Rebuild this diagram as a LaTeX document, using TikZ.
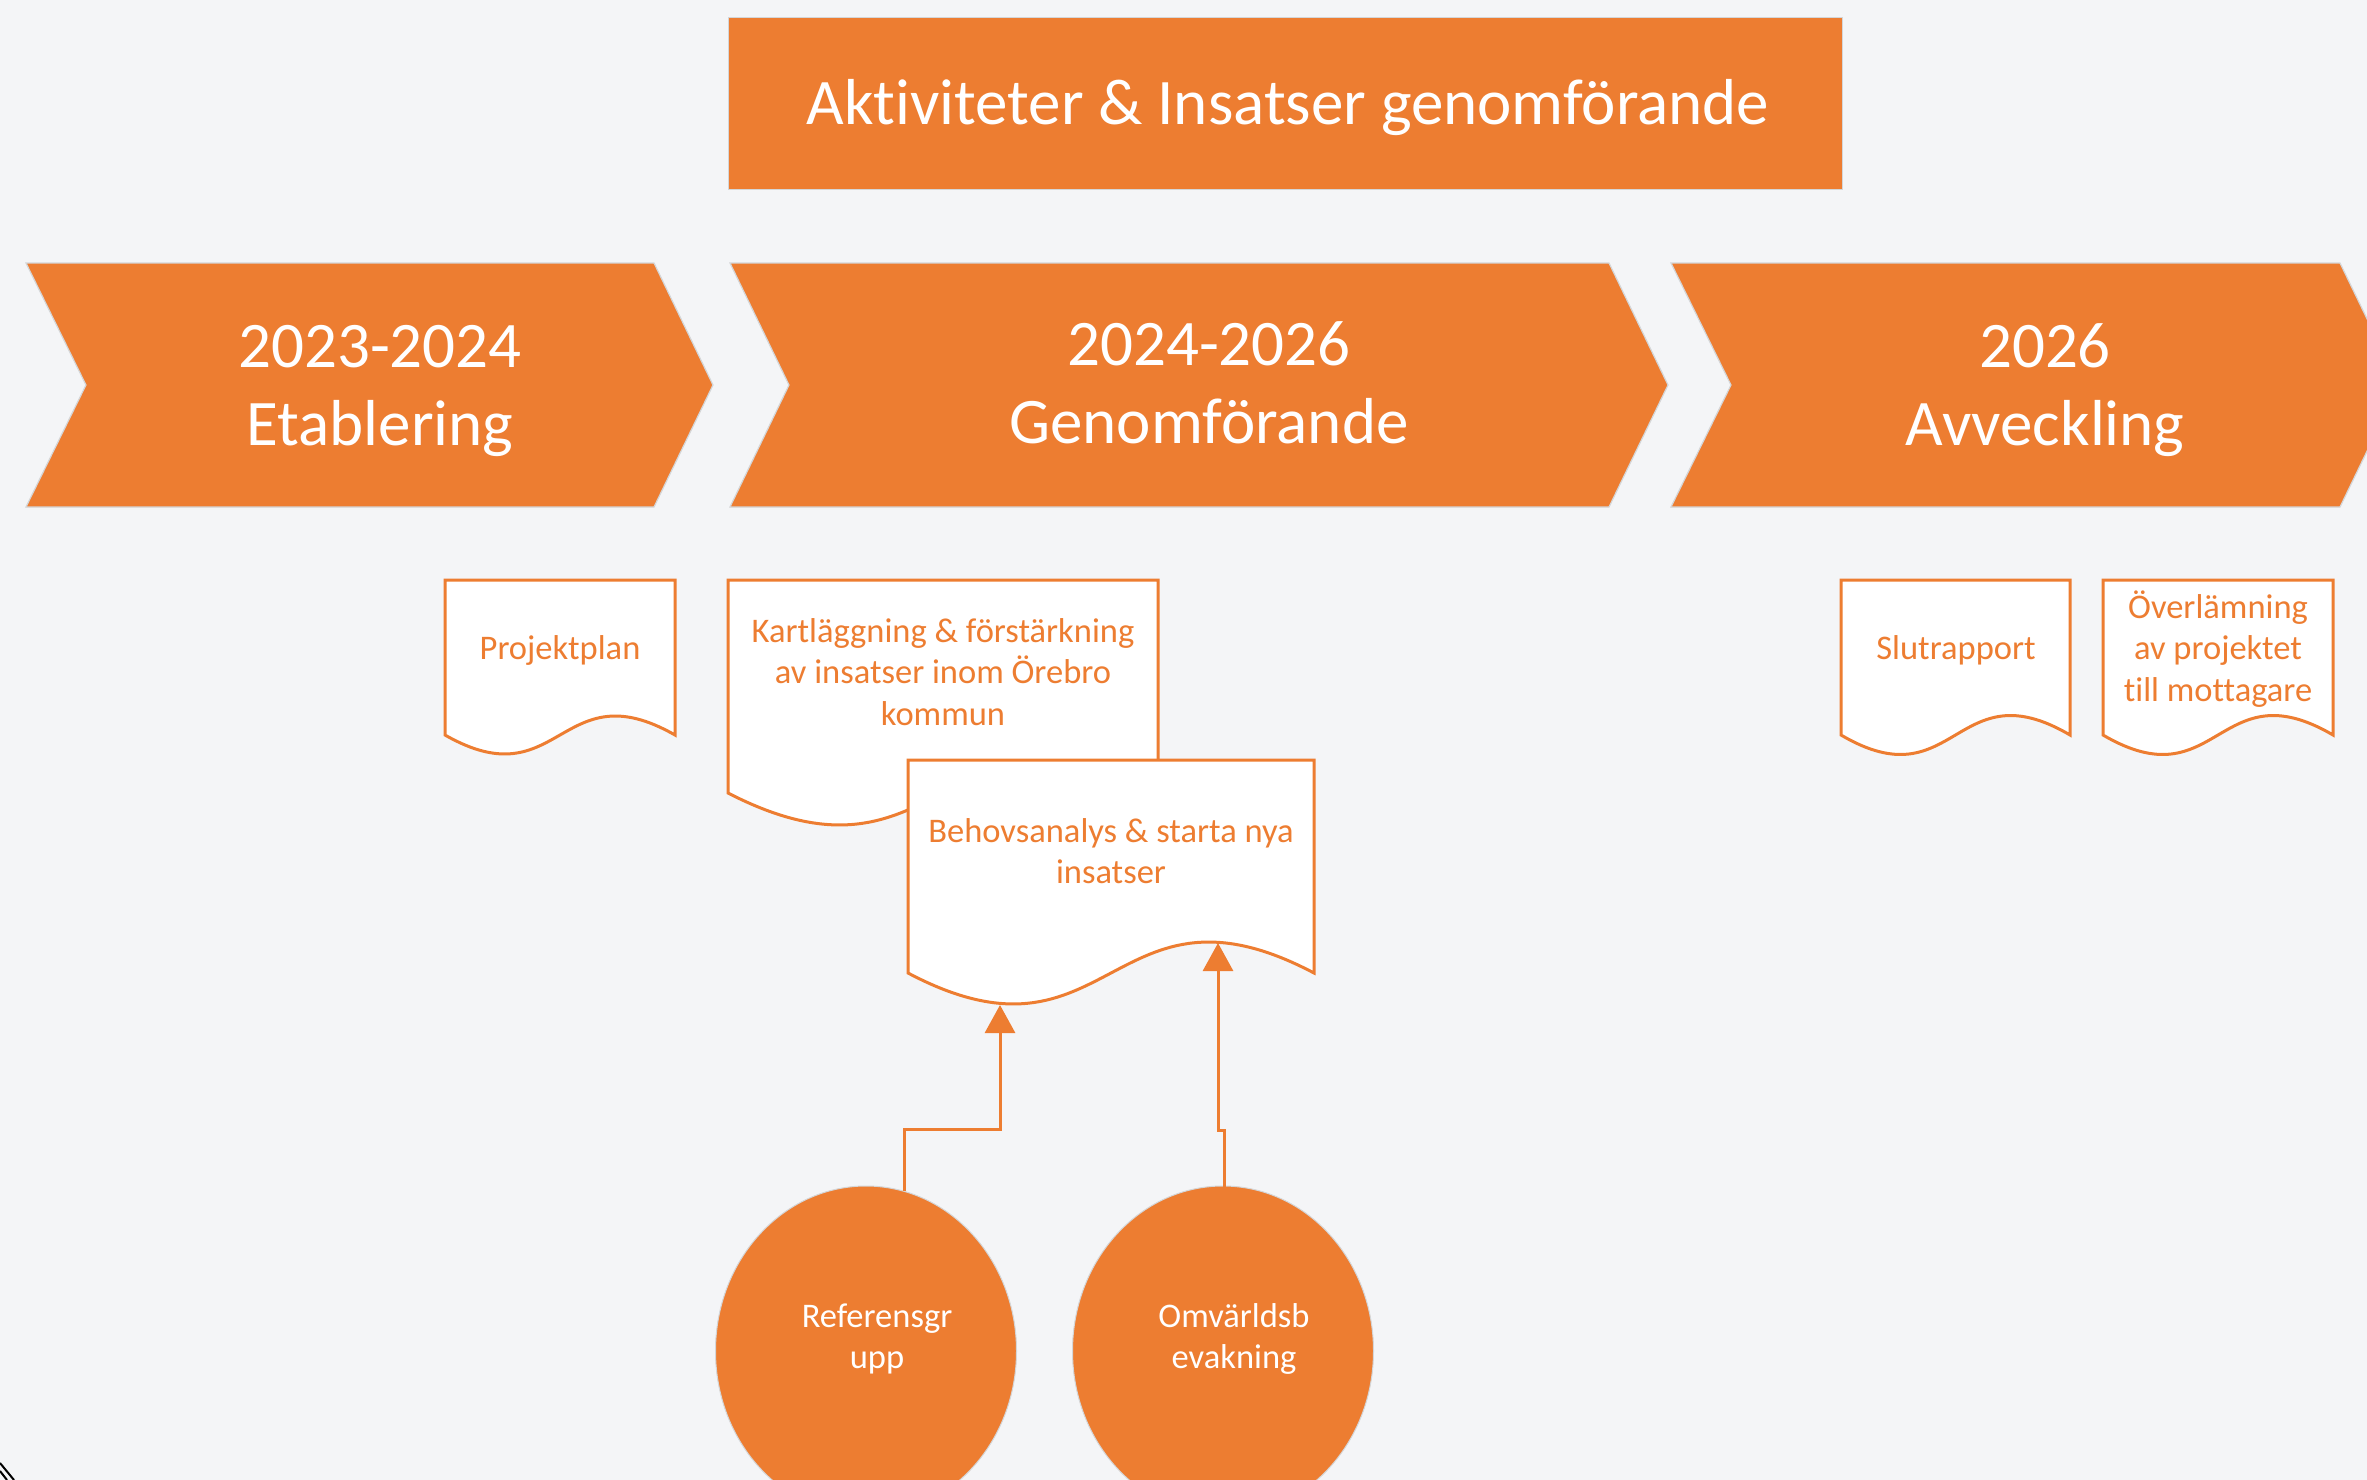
\documentclass[tikz,border=0pt]{standalone}
\usepackage{fontspec}
\setmainfont{Carlito}[Ligatures=NoCommon]
\usetikzlibrary{arrows.meta,shapes.geometric}
\definecolor{org}{HTML}{ED7D31}
\definecolor{bgc}{HTML}{F4F5F7}
\definecolor{edgec}{HTML}{D4D6D8}
\newcommand\docshape[5]{%
  \filldraw[docbox] (#1,#4) -- (#1,#2) -- (#3,#2) -- (#3,#4)
    .. controls ({(#1+#3)/2},{#4-3.46*#5}) and ({(#1+#3)/2},{#4+3.46*#5}) .. (#1,#4) -- cycle;}
\begin{document}
\begin{tikzpicture}[x=1pt,y=-1pt,
  chev/.style={fill=org, draw=edgec, line width=1.2pt},
  titlebox/.style={rectangle, fill=org, draw=edgec, line width=1.2pt, inner sep=0pt},
  titletext/.style={text=white, font=\fontsize{65}{79}\selectfont},
  chevtext/.style={text=white, align=center, font=\fontsize{65}{78}\selectfont},
  docbox/.style={fill=white, draw=org, line width=3pt},
  doctext/.style={text=org, align=center, font=\fontsize{34.5}{41.5}\selectfont},
  circ/.style={ellipse, fill=org, draw=edgec, line width=1pt, minimum width=301pt, minimum height=330pt, inner sep=0pt},
  circtext/.style={text=white, align=center, font=\fontsize{34.5}{41.5}\selectfont},
  conn/.style={draw=org, line width=3pt, -{Triangle[length=28pt,width=30pt]}}
]
\useasboundingbox (0,0) rectangle (2367,1480);
\clip (0,0) rectangle (2367,1480);
\fill[bgc] (0,0) rectangle (2367,1480);

% title
\node[titlebox, minimum width=1114pt, minimum height=172pt] (title) at (1285.5,103.5) {};
\node[titletext] (titlet) at (1288,108) {Aktiviteter \& Insatser genomförande};

% chevrons
\filldraw[chev] (26,263) -- (654,263) -- (713,385) -- (654,507) -- (26,507) -- (86,385) -- cycle;
\filldraw[chev] (730,263) -- (1609,263) -- (1668,385) -- (1609,507) -- (730,507) -- (789,385) -- cycle;
\filldraw[chev] (1671,263) -- (2340,263) -- (2399,385) -- (2340,507) -- (1671,507) -- (1731,385) -- cycle;
\node[chevtext] (c1) at (380,390.5) {2023-2024\\Etablering};
\node[chevtext] (c2) at (1209,383) {2024-2026\\Genomförande};
\node[chevtext] (c3) at (2045,390.5) {2026\\Avveckling};

% documents
\docshape{445}{580}{675}{735}{19}
\node[doctext] (projektplan) at (560,650) {Projektplan};
\docshape{728}{580}{1158}{793}{32}
\node[doctext] (kart) at (943,672) {Kartläggning \& förstärkning\\av insatser inom Örebro\\kommun};
\docshape{908}{760}{1314}{973}{31}
\node[doctext] (beh) at (1111,851) {Behovsanalys \& starta nya\\insatser};
\docshape{1841}{580}{2070}{735}{19.5}
\node[doctext] (slut) at (1956,650) {Slutrapport};
\docshape{2103}{580}{2333}{735}{19.5}
\node[doctext] (over) at (2218,649) {Överlämning\\av projektet\\till mottagare};

% circles
\node[circ] (ref) at (866,1351) {};
\node[circ] (omv) at (1223,1351) {};
\node[circtext] (reft) at (877,1339) {Referensgr\\upp};
\node[circtext] (omvt) at (1234,1339) {Omvärldsb\\evakning};

% connectors
\coordinate (refout) at (904,1191);
\coordinate (omvout) at (1224,1187);
\coordinate (behin1) at (1000,1005);
\coordinate (behin2) at (1218,943);
\draw[conn] (refout) -- (904,1129) -| (behin1);
\draw[conn] (omvout) -- (1224,1130) -- (1218,1130) -- (behin2);

% corner artefact
\draw[black, line width=2pt] (0,1463) -- (14,1480);
\draw[black, line width=2pt] (0,1471) -- (7,1480);
\end{tikzpicture}
\end{document}
